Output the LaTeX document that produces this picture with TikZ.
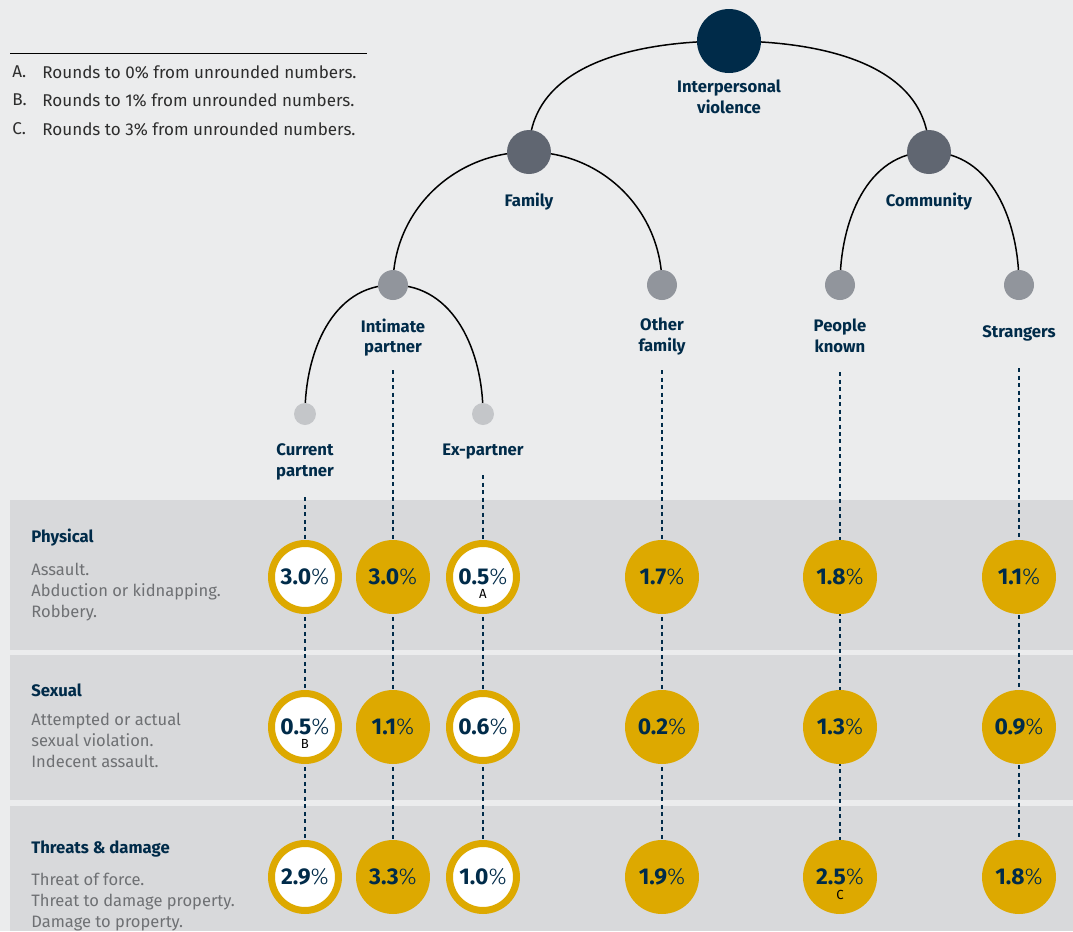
\documentclass[tikz,border=0pt]{standalone}
\usepackage{fontspec}
\setmainfont{Fira Sans}
\newfontfamily\lightfont{Fira Sans Light}
\usetikzlibrary{positioning, backgrounds}

\definecolor{navy}{RGB}{0,43,73}
\definecolor{gold}{RGB}{221,169,0}
\definecolor{bgcol}{RGB}{235,236,237}
\definecolor{bandcol}{RGB}{216,217,219}
\definecolor{lvlone}{RGB}{96,102,113}
\definecolor{lvltwo}{RGB}{145,149,156}
\definecolor{lvlthree}{RGB}{196,198,201}
\definecolor{greytext}{RGB}{110,112,115}
\definecolor{legendcol}{RGB}{45,45,45}

\tikzstyle{rootnode} = [circle, fill=navy, minimum size=1.28cm, inner sep=0]
\tikzstyle{groupnode} = [circle, fill=lvlone, minimum size=0.88cm, inner sep=0]
\tikzstyle{subnode} = [circle, fill=lvltwo, minimum size=0.6cm, inner sep=0]
\tikzstyle{leafnode} = [circle, fill=lvlthree, minimum size=0.44cm, inner sep=0]
\tikzstyle{lbl} = [inner sep=0, align=center, text=navy, font=\fontsize{9.5}{11.8}\selectfont\bfseries]
\tikzstyle{branch} = [line width=0.03cm, black]
\tikzstyle{vline} = [line width=0.03cm, navy, dash pattern=on 0.08cm off 0.07cm]
\tikzstyle{ring} = [circle, draw=gold, line width=0.14cm, fill=white, minimum size=1.34cm, inner sep=0, text=navy, font=\fontsize{13}{14}\selectfont]
\tikzstyle{disc} = [circle, fill=gold, minimum size=1.48cm, inner sep=0, text=navy, font=\fontsize{13}{14}\selectfont]
\tikzstyle{note} = [inner sep=0, text=black, font=\fontsize{7.5}{8}\selectfont]
\tikzstyle{rowtitle} = [anchor=west, inner sep=0, text=navy, font=\fontsize{9.5}{12}\selectfont\bfseries]
\tikzstyle{rowdesc} = [anchor=north west, inner sep=0, align=left, text=greytext, font=\fontsize{9.4}{11.9}\selectfont]
\tikzstyle{legend} = [anchor=west, inner sep=0, text=legendcol, font=\fontsize{9.7}{11}\selectfont]

\newcommand{\pct}[1]{{\bfseries #1}{\lightfont\%}}

\begin{document}
\begin{tikzpicture}[x=0.02cm, y=-0.02cm]
	\useasboundingbox (0,0) rectangle (1073,931);

	% tree
	\node (root) [rootnode] at (729,41) {};
	\node (fam) [groupnode] at (529,152) {};
	\node (comm) [groupnode] at (929,152) {};
	\node (intim) [subnode] at (393,285) {};
	\node (othfam) [subnode] at (662,285) {};
	\node (known) [subnode] at (840,285) {};
	\node (strang) [subnode] at (1019,285) {};
	\node (curr) [leafnode] at (305,414) {};
	\node (expart) [leafnode] at (483,414) {};

	\node (rootlbl) [lbl, below=0.12cm of root] {Interpersonal\\violence};
	\node (famlbl) [lbl, below=0.36cm of fam] {Family};
	\node (commlbl) [lbl, below=0.36cm of comm] {Community};
	\node (intimlbl) [lbl, below=0.36cm of intim] {Intimate\\partner};
	\node (othfamlbl) [lbl, below=0.34cm of othfam] {Other\\family};
	\node (knownlbl) [lbl, below=0.36cm of known] {People\\known};
	\node (stranglbl) [lbl, below=0.5cm of strang] {Strangers};
	\node (currlbl) [lbl, below=0.36cm of curr] {Current\\partner};
	\node (expartlbl) [lbl, below=0.36cm of expart] {Ex-partner};

	% legend
	\node (keya) [legend] at (12,72) {A.};
	\node (texta) [legend] at (42,72) {Rounds to 0\% from unrounded numbers.};
	\node (keyb) [legend] at (12,100) {B.};
	\node (textb) [legend] at (42,100) {Rounds to 1\% from unrounded numbers.};
	\node (keyc) [legend] at (12,129) {C.};
	\node (textc) [legend] at (42,129) {Rounds to 3\% from unrounded numbers.};

	% rows
	\node (phys) [rowtitle] at (31,538) {Physical};
	\node (physdesc) [rowdesc] at (31,563) {Assault.\\Abduction or kidnapping.\\Robbery.};
	\node (sex) [rowtitle] at (31,690) {Sexual};
	\node (sexdesc) [rowdesc] at (31,713) {Attempted or actual\\sexual violation.\\Indecent assault.};
	\node (threat) [rowtitle] at (31,849) {Threats \& damage};
	\node (threatdesc) [rowdesc] at (31,873) {Threat of force.\\Threat to damage property.\\Damage to property.};

	% values
	\node (v11) [ring] at (305,577) {\pct{3.0}};
	\node (v12) [disc] at (393,577) {\pct{3.0}};
	\node (v13) [ring] at (483,577) {\pct{0.5}};
	\node (v14) [disc] at (662,577) {\pct{1.7}};
	\node (v15) [disc] at (840,577) {\pct{1.8}};
	\node (v16) [disc] at (1019,577) {\pct{1.1}};

	\node (v21) [ring] at (305,727) {\pct{0.5}};
	\node (v22) [disc] at (393,727) {\pct{1.1}};
	\node (v23) [ring] at (483,727) {\pct{0.6}};
	\node (v24) [disc] at (662,727) {\pct{0.2}};
	\node (v25) [disc] at (840,727) {\pct{1.3}};
	\node (v26) [disc] at (1019,727) {\pct{0.9}};

	\node (v31) [ring] at (305,877) {\pct{2.9}};
	\node (v32) [disc] at (393,877) {\pct{3.3}};
	\node (v33) [ring] at (483,877) {\pct{1.0}};
	\node (v34) [disc] at (662,877) {\pct{1.9}};
	\node (v35) [disc] at (840,877) {\pct{2.5}};
	\node (v36) [disc] at (1019,877) {\pct{1.8}};

	\node (notea) [note, below=0.25cm of v13.center] {A};
	\node (noteb) [note, below=0.25cm of v21.center] {B};
	\node (notec) [note, below=0.25cm of v35.center] {C};

	\coordinate (currtop) at (305,497);
	\coordinate (intimtop) at (393,370);
	\coordinate (experttop) at (483,475);
	\coordinate (othfamtop) at (662,370);
	\coordinate (knowntop) at (840,372);
	\coordinate (strangtop) at (1019,368);

	\begin{scope}[on background layer]
		\fill[bgcol] (0,0) rectangle (1073,931);
		\fill[bandcol] (10,500) rectangle (1073,650);
		\fill[bandcol] (10,655) rectangle (1073,800);
		\fill[bandcol] (10,806) rectangle (1073,931);
		\draw[line width=0.02cm, black] (10,53) -- (367,53);

		\draw[branch] (fam.center) to[out=90, in=180] (root.center) to[out=0, in=90] (comm.center);
		\draw[branch] (intim.center) to[out=90, in=180] (fam.center) to[out=0, in=90] (othfam.center);
		\draw[branch] (known.center) to[out=90, in=180] (comm.center) to[out=0, in=90] (strang.center);
		\draw[branch] (curr.center) to[out=90, in=180] (intim.center) to[out=0, in=90] (expart.center);

		\draw[vline] (currtop) -- (v31);
		\draw[vline] (intimtop) -- (v32);
		\draw[vline] (experttop) -- (v33);
		\draw[vline] (othfamtop) -- (v34);
		\draw[vline] (knowntop) -- (v35);
		\draw[vline] (strangtop) -- (v36);
	\end{scope}
\end{tikzpicture}
\end{document}
